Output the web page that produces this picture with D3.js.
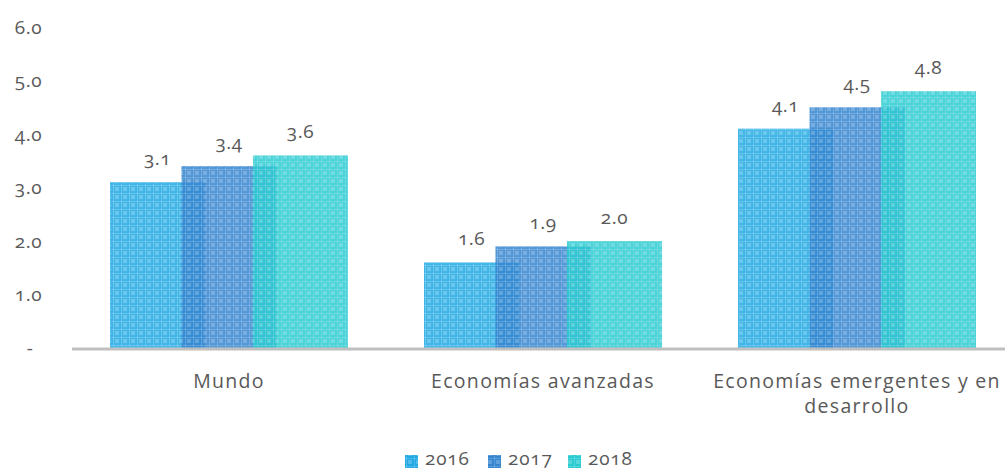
<!DOCTYPE html>
<html>
<head>
<meta charset="utf-8">
<script src="https://cdn.jsdelivr.net/npm/d3@7"></script>
<style>
  body { margin: 0; background: #fff; }
  svg text { font-family: "Open Sans", "Lato", sans-serif; fill: #595959; font-feature-settings: "onum"; font-variant-numeric: oldstyle-nums; }
</style>
</head>
<body>
<div class="graph"></div>
<script>
// data
const categories = [["Mundo"], ["Economías avanzadas"], ["Economías emergentes y en", "desarrollo"]];
const years = ["2016", "2017", "2018"];
const v2016 = [3.1, 1.6, 4.1];
const v2017 = [3.4, 1.9, 4.5];
const v2018 = [3.6, 2.0, 4.8];
const yTicks = [0, 1, 2, 3, 4, 5, 6];

const series = [v2016, v2017, v2018];
const COLORS = ["#22a9e4", "#3585cf", "#2acbd1"];

// dimensions
const SIZE = {X: 1005, Y: 473};
const MARGIN = {TOP: 27, LEFT: 72};
const PLOT = {RIGHT: 1014, BOTTOM: 348};

const svg = d3.select(".graph").append("svg")
    .attr("width", SIZE.X)
    .attr("height", SIZE.Y);

// plaid patterns for the fills
const defs = svg.append("defs");
COLORS.forEach((c, i) => {
    const p = defs.append("pattern")
        .attr("id", "pat" + i)
        .attr("patternUnits", "userSpaceOnUse")
        .attr("width", 8).attr("height", 8);
    p.append("rect").attr("width", 8).attr("height", 8).attr("fill", c);
    // light cells
    p.append("rect").attr("x", 3).attr("y", 3).attr("width", 4).attr("height", 4)
        .attr("fill", "#fff").attr("opacity", 0.22);
    // thin light lines
    p.append("rect").attr("x", 1).attr("y", 0).attr("width", 1).attr("height", 8)
        .attr("fill", "#fff").attr("opacity", 0.18);
    p.append("rect").attr("x", 0).attr("y", 1).attr("width", 8).attr("height", 1)
        .attr("fill", "#fff").attr("opacity", 0.18);
});

// scales
const x = d3.scaleBand()
    .domain(d3.range(categories.length))
    .range([MARGIN.LEFT, PLOT.RIGHT]);

const y = d3.scaleLinear()
    .domain([0, 6])
    .range([PLOT.BOTTOM, MARGIN.TOP]);

// bars overlap: step between bars is smaller than bar width
const groupPad = x.bandwidth() * 0.121;
const barStep = (x.bandwidth() - 2 * groupPad) / 3.33;
const barW = barStep * 1.33;
const xs = d3.scalePoint()
    .domain(years)
    .range([groupPad, groupPad + 2 * barStep]);

// y axis labels
const yAxis = svg.append("g")
    .attr("transform", `translate(42,0)`)
    .call(d3.axisLeft(y).tickValues(yTicks).tickSize(0)
        .tickFormat(d => d === 0 ? "-" : d3.format(".1f")(d)));
yAxis.select(".domain").remove();
yAxis.selectAll("text")
    .attr("x", 0)
    .style("font-size", "19px")
    .style("letter-spacing", "0.5px")
    .attr("text-anchor", d => d === 0 ? "middle" : "end")
    .attr("dx", d => d === 0 ? "-12px" : 0);

// bars
years.forEach((yr, s) => {
    const g = svg.append("g");
    g.selectAll("rect")
        .data(series[s])
        .join("rect")
        .attr("x", (d, i) => x(i) + xs(yr))
        .attr("y", d => y(d))
        .attr("width", barW)
        .attr("height", d => y(0) - y(d))
        .attr("fill", `url(#pat${s})`)
        .attr("opacity", 0.85);
    g.selectAll("text")
        .data(series[s])
        .join("text")
        .attr("x", (d, i) => x(i) + xs(yr) + barW / 2)
        .attr("y", d => y(d) - 17)
        .attr("text-anchor", "middle")
        .style("font-size", "19px")
        .style("letter-spacing", "0.5px")
        .text(d => d3.format(".1f")(d));
});

// baseline
svg.append("line")
    .attr("x1", MARGIN.LEFT).attr("x2", SIZE.X)
    .attr("y1", y(0) + 1).attr("y2", y(0) + 1)
    .attr("stroke", "#bfbfbf")
    .attr("stroke-width", 3);

// category labels
const cat = svg.append("g").selectAll("text")
    .data(categories)
    .join("text")
    .attr("x", (d, i) => x(i) + x.bandwidth() / 2)
    .attr("y", 388)
    .attr("text-anchor", "middle")
    .style("font-size", "19.5px")
    .style("letter-spacing", "1.3px");
cat.selectAll("tspan")
    .data(d => d)
    .join("tspan")
    .attr("x", function() { return this.parentNode.getAttribute("x"); })
    .attr("dy", (d, i) => i === 0 ? 0 : 25)
    .text(d => d);

// legend
const legW = [83, 80, 80];
const legend = svg.append("g").attr("transform", "translate(405,465)");
years.forEach((yr, s) => {
    const lx = d3.sum(legW.slice(0, s));
    legend.append("rect")
        .attr("x", lx).attr("y", -10)
        .attr("width", 13).attr("height", 13)
        .attr("fill", `url(#pat${s})`);
    legend.append("text")
        .attr("x", lx + 20).attr("y", 0)
        .style("font-size", "19px")
        .style("letter-spacing", "0.8px")
        .text(yr);
});
</script>
</body>
</html>
